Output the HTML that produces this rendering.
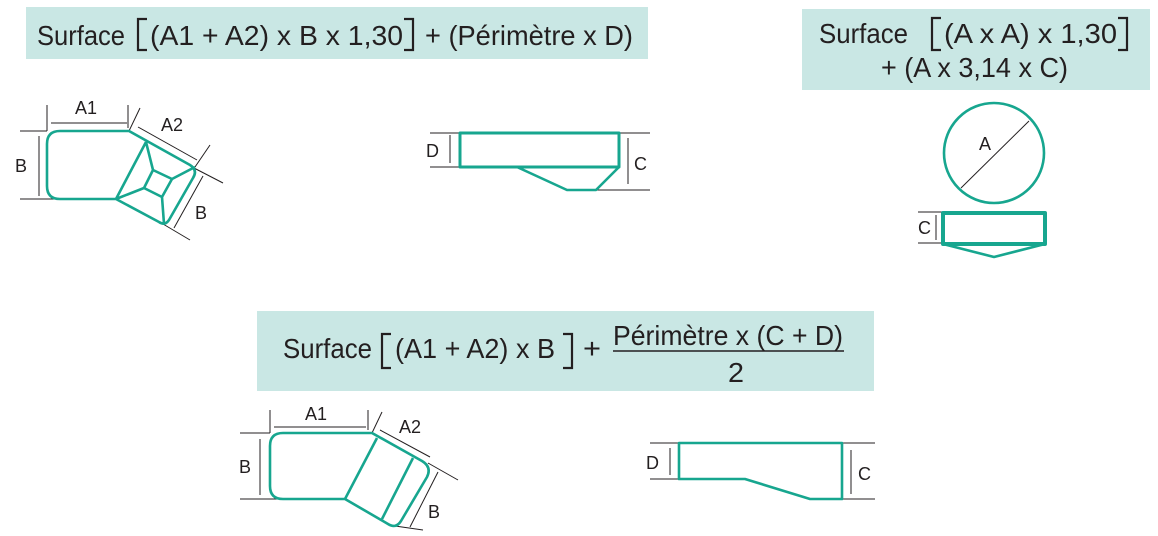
<!DOCTYPE html>
<html><head><meta charset="utf-8"><style>
html,body{margin:0;padding:0;background:#fff;}
svg{display:block;}
text{font-family:"Liberation Sans",sans-serif;fill:#231f20;}
</style></head><body>
<svg width="1158" height="536" viewBox="0 0 1158 536" xmlns="http://www.w3.org/2000/svg">
<!-- boxes -->
<rect x="26" y="7" width="622" height="52" fill="#c9e7e4"/>
<rect x="802" y="9" width="348" height="81" fill="#c9e7e4"/>
<rect x="257" y="311" width="617" height="80" fill="#c9e7e4"/>

<g stroke="#231f20" stroke-width="2.2" fill="none">
<path d="M147 19 L138 19 L138 50 L147 50"/>
<path d="M404 19 L413 19 L413 50 L404 50"/>
<path d="M941 18 L932 18 L932 50 L941 50"/>
<path d="M1118 18 L1127 18 L1127 50 L1118 50"/>
<path d="M391 334 L382 334 L382 368 L391 368"/>
<path d="M563 334 L572 334 L572 368 L563 368"/>
</g>

<!-- top-left formula -->
<g font-size="28">
<text x="37" y="45" textLength="88" lengthAdjust="spacingAndGlyphs">Surface</text>
<text x="150" y="45" textLength="253" lengthAdjust="spacingAndGlyphs">(A1 + A2) x B x 1,30</text>
<text x="425" y="45" textLength="208" lengthAdjust="spacingAndGlyphs">+ (Périmètre x D)</text>
</g>
<!-- top-right formula -->
<g font-size="28">
<text x="819" y="43" textLength="89" lengthAdjust="spacingAndGlyphs">Surface</text>
<text x="944" y="43" textLength="173" lengthAdjust="spacingAndGlyphs">(A x A) x 1,30</text>
<text x="881" y="77" textLength="187" lengthAdjust="spacingAndGlyphs">+ (A x 3,14 x C)</text>
</g>
<!-- bottom formula -->
<g font-size="28">
<text x="283" y="358" textLength="89" lengthAdjust="spacingAndGlyphs">Surface</text>
<text x="395" y="358" textLength="160" lengthAdjust="spacingAndGlyphs">(A1 + A2) x B</text>
<text x="583" y="358" textLength="18" lengthAdjust="spacingAndGlyphs">+</text>
<text x="613" y="345" textLength="230" lengthAdjust="spacingAndGlyphs">Périmètre x (C + D)</text>
<line x1="613" y1="351" x2="844" y2="351" stroke="#231f20" stroke-width="1.5"/>
<text x="728" y="382" textLength="16" lengthAdjust="spacingAndGlyphs">2</text>
</g>

<g stroke="#231f20" stroke-width="1" fill="none">
<line x1="20" y1="131" x2="47" y2="131"/><line x1="20" y1="199" x2="55" y2="199"/>
<line x1="39" y1="136" x2="39" y2="196"/>
<line x1="47" y1="105" x2="47" y2="131"/><line x1="128" y1="105" x2="128" y2="128"/>
<line x1="51" y1="123" x2="127" y2="123"/>
<line x1="129" y1="131" x2="140" y2="108"/>
<line x1="138" y1="127" x2="197" y2="160"/>
<line x1="195" y1="167" x2="210" y2="145"/>
<line x1="194" y1="168" x2="223" y2="183"/>
<line x1="174" y1="228" x2="203" y2="176"/>
<line x1="163" y1="224" x2="190" y2="240"/>
<line x1="430" y1="133" x2="460" y2="133"/><line x1="430" y1="167" x2="460" y2="167"/>
<line x1="450" y1="135" x2="450" y2="163"/>
<line x1="619" y1="133" x2="650" y2="133"/><line x1="596" y1="190" x2="650" y2="190"/>
<line x1="628" y1="138" x2="628" y2="184"/>
<line x1="961" y1="188" x2="1029" y2="121"/>
<line x1="918" y1="212" x2="943" y2="212"/><line x1="918" y1="243" x2="943" y2="243"/>
<line x1="936" y1="215" x2="936" y2="240"/>
<line x1="240" y1="433" x2="270" y2="433"/><line x1="240" y1="499" x2="280" y2="499"/>
<line x1="260" y1="439" x2="260" y2="495"/>
<line x1="270" y1="410" x2="270" y2="433"/><line x1="368" y1="410" x2="368" y2="430"/>
<line x1="274" y1="427" x2="366" y2="427"/>
<line x1="372" y1="433" x2="382" y2="412"/>
<line x1="380" y1="430" x2="430" y2="457"/>
<line x1="428" y1="463" x2="458" y2="480"/>
<line x1="410" y1="527" x2="438" y2="472"/>
<line x1="395" y1="526" x2="423" y2="530"/>
<line x1="650" y1="443" x2="679" y2="443"/><line x1="650" y1="479" x2="679" y2="479"/>
<line x1="670" y1="448" x2="670" y2="475"/>
<line x1="842" y1="443" x2="875" y2="443"/><line x1="842" y1="499" x2="875" y2="499"/>
<line x1="851" y1="450" x2="851" y2="494"/>
</g>

<g stroke="#17a68f" stroke-width="2.6" fill="none" stroke-linejoin="round">
<path d="M60 131 L129 131 L190 165 Q198 170 193 178 L169 220 Q165 226 159 222 L116 199 L60 199 Q47 199 47 186 L47 144 Q47 131 60 131 Z"/>
<path d="M146 142 L116 199 M146 142 L153 170 L172 179 L162 197 L144 188 L153 170 M172 179 L195 167 M162 197 L164 224 M144 188 L116 199"/>
<rect x="460" y="133" width="159" height="34" stroke-width="3"/>
<path d="M517 167 L567 190 L596 190 L619 167"/>
<circle cx="994" cy="153" r="50"/>
<rect x="943" y="213" width="102" height="31" stroke-width="4"/>
<path d="M943 244 L994 257 L1045 244"/>
<path d="M283 433 L372 433 L422 461 Q432 467 427 477 L401 521 Q396 529 388 524 L345 499 L283 499 Q270 499 270 486 L270 446 Q270 433 283 433 Z"/>
<path d="M377 438 L345 499 M413 458 L382 519"/>
<path d="M679 443 L842 443 L842 499 L810 499 L745 479 L679 479 Z"/>
</g>

<g font-size="18">
<text x="75" y="114">A1</text>
<text x="161" y="131">A2</text>
<text x="15" y="172">B</text>
<text x="195" y="219">B</text>
<text x="426" y="157">D</text>
<text x="634" y="170">C</text>
<text x="979" y="150">A</text>
<text x="918" y="234">C</text>
<text x="305" y="420">A1</text>
<text x="399" y="433">A2</text>
<text x="239" y="473">B</text>
<text x="428" y="518">B</text>
<text x="646" y="469">D</text>
<text x="858" y="480">C</text>
</g>
</svg>
</body></html>
